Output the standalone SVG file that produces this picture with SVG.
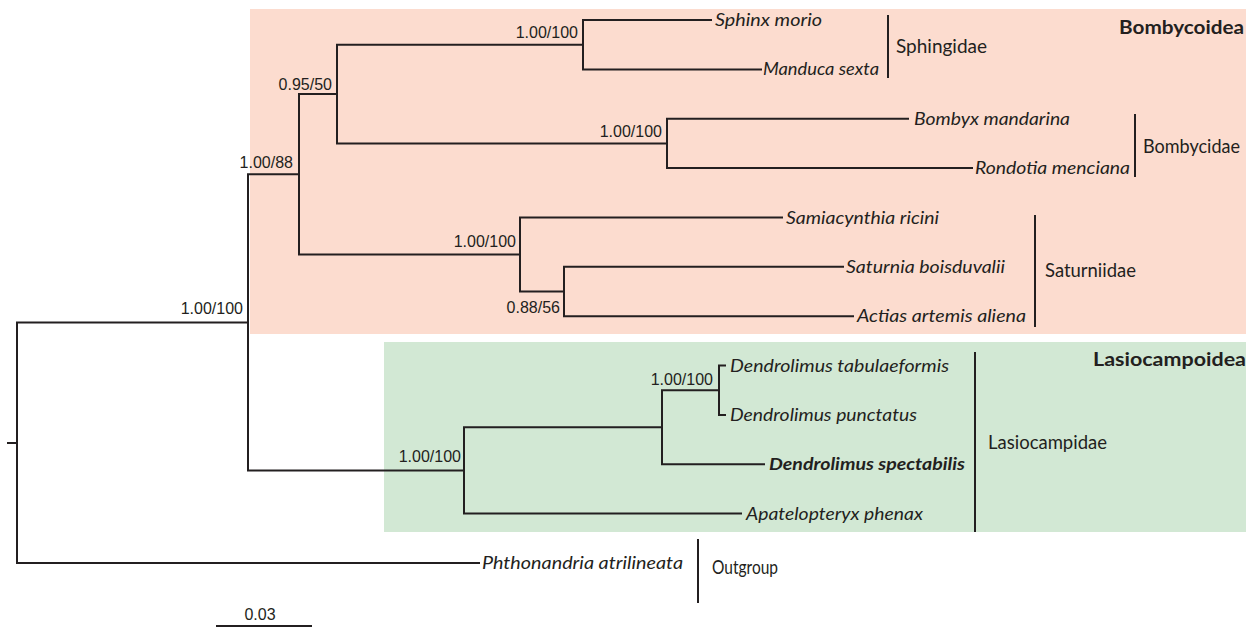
<svg xmlns="http://www.w3.org/2000/svg" width="1252" height="629" viewBox="0 0 1252 629">
<style>
.br{fill:none;stroke:#231f20;stroke-width:2;stroke-linejoin:miter}
.bar{stroke:#231f20;stroke-width:2}
.sp{font-family:Lato,"Open Sans",sans-serif;font-style:italic;font-size:17.5px;fill:#231f20}
.spb{font-family:Lato,"Open Sans",sans-serif;font-style:italic;font-weight:bold;font-size:17.5px;fill:#231f20}
.sup{font-family:"Liberation Sans",Arial,sans-serif;font-size:16px;fill:#231f20;text-anchor:end}
.cl{font-family:Lato,"Open Sans",sans-serif;font-size:18.5px;fill:#231f20}
.sc{font-family:Lato,"Open Sans",sans-serif;font-weight:bold;font-size:18.5px;fill:#231f20}
</style>
<g id="backgrounds">
<rect x="250" y="9" width="996" height="325" fill="#fcdccf"/>
<rect x="384" y="342" width="862" height="190" fill="#d2e8d4"/>
</g>
<g id="connectors">
<path class="br" d="M7,443 H17"/>
<path class="br" d="M248,322.4 H17 V563 H480"/>
<path class="br" d="M299,174.3 H248 V470.4 H464"/>
<path class="br" d="M337,94 H299 V254.5 H520"/>
<path class="br" d="M583,44.7 H337 V143.4 H667"/>
<path class="br" d="M712,20 H583 V69.4 H762"/>
<path class="br" d="M909,118.7 H667 V168.1 H973"/>
<path class="br" d="M783,217.5 H520 V291.5 H564"/>
<path class="br" d="M844,266.8 H564 V316.2 H854"/>
<path class="br" d="M662,427.3 H464 V513.6 H742"/>
<path class="br" d="M719,390.2 H662 V464.3 H765"/>
<path class="br" d="M726,365.5 H719 V414.9 H726"/>
</g>
<g id="supports">
<text class="sup" x="243" y="314">1.00/100</text>
<text class="sup" x="293" y="168">1.00/88</text>
<text class="sup" x="332" y="90">0.95/50</text>
<text class="sup" x="578" y="38">1.00/100</text>
<text class="sup" x="662" y="137">1.00/100</text>
<text class="sup" x="516" y="247">1.00/100</text>
<text class="sup" x="560" y="313">0.88/56</text>
<text class="sup" x="461" y="462">1.00/100</text>
<text class="sup" x="713" y="385">1.00/100</text>
</g>
<g id="tip-sphinx"><text class="sp" x="715" y="26" textLength="107" lengthAdjust="spacingAndGlyphs">Sphinx morio</text></g>
<g id="tip-manduca"><text class="sp" x="763" y="75" textLength="116" lengthAdjust="spacingAndGlyphs">Manduca sexta</text></g>
<g id="tip-bombyx"><text class="sp" x="914" y="125" textLength="156" lengthAdjust="spacingAndGlyphs">Bombyx mandarina</text></g>
<g id="tip-rondotia"><text class="sp" x="975" y="174" textLength="155" lengthAdjust="spacingAndGlyphs">Rondotia menciana</text></g>
<g id="tip-samia"><text class="sp" x="786" y="224" textLength="153" lengthAdjust="spacingAndGlyphs">Samiacynthia ricini</text></g>
<g id="tip-saturnia"><text class="sp" x="846" y="273" textLength="159" lengthAdjust="spacingAndGlyphs">Saturnia boisduvalii</text></g>
<g id="tip-actias"><text class="sp" x="857" y="322" textLength="169" lengthAdjust="spacingAndGlyphs">Actias artemis aliena</text></g>
<g id="tip-dtab"><text class="sp" x="730" y="372" textLength="219" lengthAdjust="spacingAndGlyphs">Dendrolimus tabulaeformis</text></g>
<g id="tip-dpunct"><text class="sp" x="730" y="421" textLength="187" lengthAdjust="spacingAndGlyphs">Dendrolimus punctatus</text></g>
<g id="tip-dspect"><text class="spb" x="769" y="470" textLength="196" lengthAdjust="spacingAndGlyphs">Dendrolimus spectabilis</text></g>
<g id="tip-apatel"><text class="sp" x="746" y="520" textLength="177" lengthAdjust="spacingAndGlyphs">Apatelopteryx phenax</text></g>
<g id="tip-phthon"><text class="sp" x="482" y="569" textLength="201" lengthAdjust="spacingAndGlyphs">Phthonandria atrilineata</text></g>
<g id="clade-sphingidae">
<line class="bar" x1="888" y1="15" x2="888" y2="78"/>
<text class="cl" x="896" y="53" textLength="91" lengthAdjust="spacingAndGlyphs">Sphingidae</text>
</g>
<g id="clade-bombycidae">
<line class="bar" x1="1135" y1="114" x2="1135" y2="177"/>
<text class="cl" x="1143" y="153" textLength="97" lengthAdjust="spacingAndGlyphs">Bombycidae</text>
</g>
<g id="clade-saturniidae">
<line class="bar" x1="1035" y1="215" x2="1035" y2="327"/>
<text class="cl" x="1045" y="277" textLength="91" lengthAdjust="spacingAndGlyphs">Saturniidae</text>
</g>
<g id="clade-lasiocampidae">
<line class="bar" x1="975" y1="352" x2="975" y2="532"/>
<text class="cl" x="988" y="449" textLength="119" lengthAdjust="spacingAndGlyphs">Lasiocampidae</text>
</g>
<g id="clade-outgroup">
<line class="bar" x1="698" y1="539" x2="698" y2="603"/>
<text class="cl" x="712" y="574" textLength="66" lengthAdjust="spacingAndGlyphs">Outgroup</text>
</g>
<g id="superfamily-bombycoidea"><text class="sc" x="1119" y="34" textLength="125" lengthAdjust="spacingAndGlyphs">Bombycoidea</text></g>
<g id="superfamily-lasiocampoidea"><text class="sc" x="1093" y="366" textLength="153" lengthAdjust="spacingAndGlyphs">Lasiocampoidea</text></g>
<g id="scale-bar">
<line class="bar" x1="216" y1="626" x2="312" y2="626"/>
<text class="sup" style="text-anchor:middle" x="260" y="620">0.03</text>
</g>
</svg>
